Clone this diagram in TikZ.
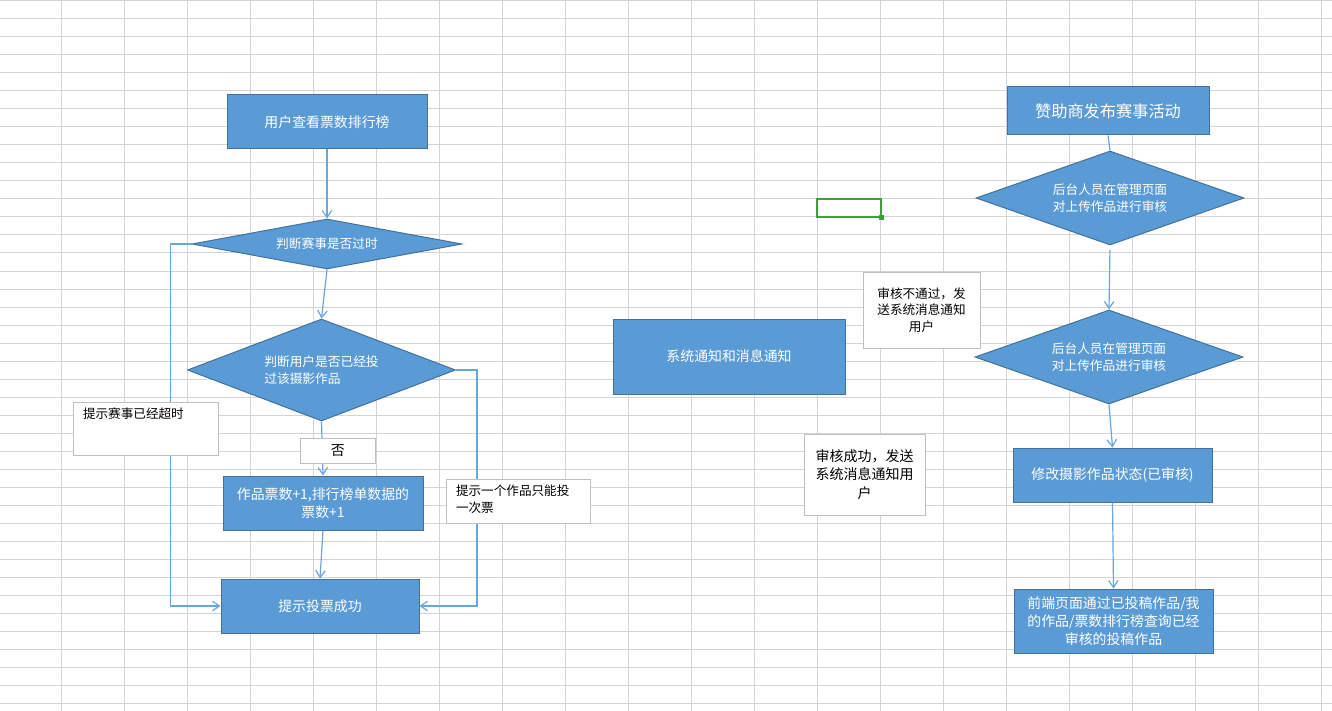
\documentclass[tikz,border=0pt]{standalone}
\usepackage{fontspec}
\setmainfont{Noto Sans CJK SC}
\usetikzlibrary{arrows.meta}
\usetikzlibrary{shapes.geometric}
\definecolor{gridgray}{RGB}{212,212,212}
\definecolor{boxblue}{RGB}{91,155,213}
\definecolor{boxline}{RGB}{65,113,156}
\definecolor{notegray}{RGB}{191,191,191}
\definecolor{flowblue}{RGB}{108,164,220}
\definecolor{selgreen}{RGB}{60,160,60}
\tikzset{cell/.style = {draw = gridgray, line width = 1pt},
         process/.style = {draw = boxline, fill = boxblue, text = white, line width = 1pt,
                           inner sep = 0pt, align = center,
                           font = \fontsize{13.9}{17.8}\selectfont},
         decision/.style = {diamond, draw = boxline, fill = boxblue, text = white, line width = 1pt,
                            inner sep = 0pt, align = center,
                            font = \fontsize{12.7}{16.8}\selectfont},
         remark/.style = {draw = notegray, fill = white, line width = 1pt,
                          inner sep = 0pt, align = center,
                          font = \fontsize{12.6}{16.5}\selectfont},
         topremark/.style = {remark, anchor = north west, align = left,
                             inner xsep = 9.5pt, inner ysep = 5pt, text height = 11pt},
         flow/.style = {draw = flowblue, line width = 1.2pt,
                        -{Straight Barb[length = 7pt, width = 9.5pt]}}}

\begin{document}
\begin{tikzpicture}[x = 1pt, y = -1pt]
      \fill [white] (0, 0) rectangle (1332, 711);
      \useasboundingbox (0, 0) rectangle (1332, 711);
      % sheet grid
      \foreach \i in {0,...,20}
        \draw [cell] ({61 + 63*\i}, 0) -- ({61 + 63*\i}, 711);
      \foreach \j in {0,...,39}
        \draw [cell] (0, {1 + 18*\j}) -- (1332, {1 + 18*\j});
      \draw [draw = selgreen, line width = 2pt] (817, 199) rectangle (881, 217.5);
      \fill [selgreen] (878.5, 215) rectangle (883.5, 220);

      % voting
      \node [process, minimum width = 200pt, minimum height = 54pt] (rank) at (327, 122) {用户查看票数排行榜};
      \node [decision, aspect = 5.4, minimum width = 270pt, minimum height = 50pt] (timeout) at (327, 244) {判断赛事是否过时};
      \node [decision, aspect = 2.63, minimum width = 268pt, minimum height = 102pt, align = left] (voted) at (321.5, 370) {判断用户是否已经投\\过该摄影作品};
      \node [process, minimum width = 200pt, minimum height = 54pt] (count) at (323, 503) {作品票数+1,排行榜单数据的\\票数+1};
      \node [process, minimum width = 198pt, minimum height = 54pt] (success) at (320, 606) {提示投票成功};

      % audit
      \node [process, minimum width = 202pt, minimum height = 48pt, font = \fontsize{16.2}{20}\selectfont] (sponsor) at (1108, 111) {赞助商发布赛事活动};
      \node [decision, aspect = 2.85, minimum width = 268pt, minimum height = 94pt] (auditA) at (1110, 198) {后台人员在管理页面\\对上传作品进行审核};
      \node [decision, aspect = 2.85, minimum width = 268pt, minimum height = 94pt] (auditB) at (1109, 357) {后台人员在管理页面\\对上传作品进行审核};
      \node [process, minimum width = 199pt, minimum height = 54pt] (status) at (1112.5, 475) {修改摄影作品状态(已审核)};
      \node [process, minimum width = 199pt, minimum height = 64pt] (front) at (1113.5, 621) {前端页面通过已投稿作品/我\\的作品/票数排行榜查询已经\\审核的投稿作品};
      \node [process, minimum width = 232pt, minimum height = 75pt] (notice) at (729, 356.5) {系统通知和消息通知};

      \draw [flow] (rank.south) -- (timeout.north);
      \draw [flow] (timeout.south) -- (voted.north);
      \draw [flow] (timeout.west) -- ++(-21, 0) |- (success.west);
      \draw [flow] (voted.east) -- ++(21, 0) |- (success.east);
      \draw [flow] (voted.south) -- (count.north);
      \draw [flow] (count.south) -- (success.north);
      \draw [draw = flowblue, line width = 1.2pt] (sponsor.south) -- (auditA.north);
      \draw [flow, shorten < = 4.5pt] (auditA.south) -- (auditB.north);
      \draw [flow] (auditB.south) -- (status.north);
      \draw [flow] (status.south) -- (front.north);

      % text boxes
      \node [topremark, text width = 126pt, text depth = 32pt] (expired) at (73, 402) {提示赛事已经超时};
      \node [topremark, text width = 125pt, text depth = 23pt] (once) at (446, 479) {提示一个作品只能投\\一次票};
      \node [remark, minimum width = 75pt, minimum height = 25pt, font = \fontsize{13.9}{16}\selectfont] (no) at (337.75, 450.75) {否};
      \node [remark, minimum width = 117pt, minimum height = 76pt] (reject) at (921.5, 310) {审核不通过，发\\送系统消息通知\\用户};
      \node [remark, minimum width = 121pt, minimum height = 81pt, font = \fontsize{14}{18.3}\selectfont] (pass) at (864.5, 474.5) {审核成功，发送\\系统消息通知用\\户};

    \end{tikzpicture}
\end{document}
